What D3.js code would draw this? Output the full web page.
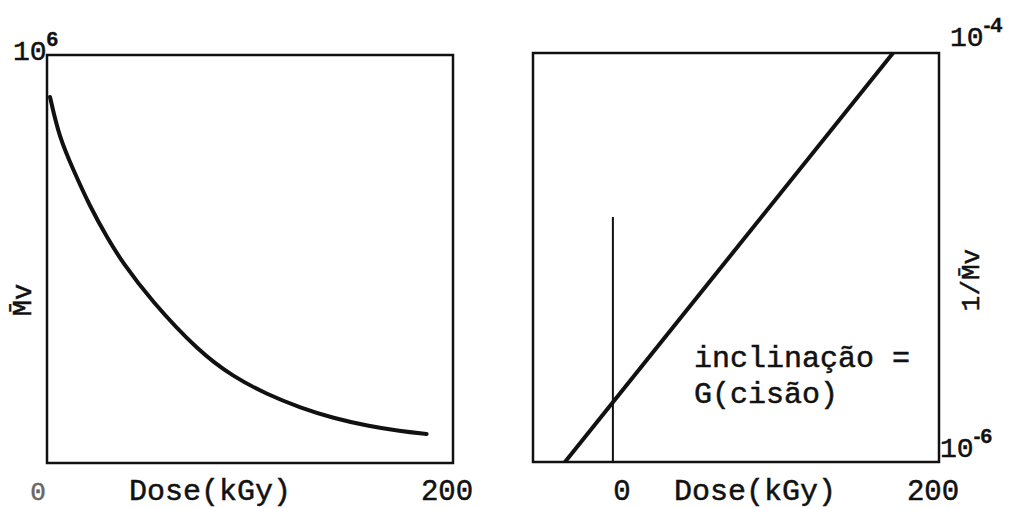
<!DOCTYPE html>
<html>
<head>
<meta charset="utf-8">
<script src="https://cdn.jsdelivr.net/npm/d3@7"></script>
<style>
  body { margin: 0; background: #fff; }
  text { font-family: "Liberation Mono", "DejaVu Sans Mono", monospace; fill: #111; stroke: #111; stroke-width: 0.5px; }
  .sup { font-family: "Liberation Sans", Arial, sans-serif; font-weight: bold; stroke-width: 0.3px; }
</style>
</head>
<body>
<div id="chart"></div>
<script>
// left panel: Mv vs dose
var doseLeft = [1.5, 6, 13, 21, 30, 37, 51, 75, 92, 108, 125, 141, 158, 174, 187];
var mvLeft = [897000, 799000, 718000, 630000, 549000, 493000, 400000, 272000, 211000, 169000, 135000, 110000, 91000, 78000, 71000];

// right panel: 1/Mv vs dose, straight line + vertical marker at dose 0
var doseRight = [-29.4, 171.8];
var invMvRight = [1e-6, 1e-4];
var markerDose = [0, 0];
var markerValue = [1e-6, 6.03e-5];

var xTickLabels = ["0", "200"];
var axisTitle = "Dose(kGy)";

var svgWidth = 1019;
var svgHeight = 508;

var svg = d3.select("#chart")
  .append("svg")
  .attr("width", svgWidth)
  .attr("height", svgHeight);

// Step 1: scales
// ==============================
var xLeft = d3.scaleLinear().domain([0, 200]).range([47, 453]);
var yLeft = d3.scaleLinear().domain([0, 1e6]).range([463, 55]);

var xRight = d3.scaleLinear().domain([-49, 200]).range([533, 939]);
var yRight = d3.scaleLinear().domain([1e-6, 1e-4]).range([462, 53]);

// Step 2: frames
// ==============================
svg.append("rect")
  .attr("x", xLeft(0)).attr("y", yLeft(1e6))
  .attr("width", xLeft(200) - xLeft(0))
  .attr("height", yLeft(0) - yLeft(1e6))
  .attr("fill", "none")
  .attr("stroke", "#111")
  .attr("stroke-width", 2.5);

svg.append("rect")
  .attr("x", xRight(-49)).attr("y", yRight(1e-4))
  .attr("width", xRight(200) - xRight(-49))
  .attr("height", yRight(1e-6) - yRight(1e-4))
  .attr("fill", "none")
  .attr("stroke", "#111")
  .attr("stroke-width", 2.5);

// Step 3: data lines
// ==============================
var leftData = doseLeft.map(function(d, i) { return {x: d, y: mvLeft[i]}; });
var rightData = doseRight.map(function(d, i) { return {x: d, y: invMvRight[i]}; });
var markerData = markerDose.map(function(d, i) { return {x: d, y: markerValue[i]}; });

// basis curve smooths out the reading noise of the hand-picked points
svg.append("path")
  .datum(leftData)
  .attr("fill", "none")
  .attr("stroke", "#111")
  .attr("stroke-width", 4)
  .attr("stroke-linecap", "round")
  .attr("d", d3.line()
    .curve(d3.curveBasis)
    .x(function(d) { return xLeft(d.x); })
    .y(function(d) { return yLeft(d.y); }));

svg.append("path")
  .datum(rightData)
  .attr("fill", "none")
  .attr("stroke", "#111")
  .attr("stroke-width", 4)
  .attr("d", d3.line()
    .x(function(d) { return xRight(d.x); })
    .y(function(d) { return yRight(d.y); }));

svg.append("path")
  .datum(markerData)
  .attr("fill", "none")
  .attr("stroke", "#111")
  .attr("stroke-width", 2)
  .attr("d", d3.line()
    .x(function(d) { return xRight(d.x); })
    .y(function(d) { return yRight(d.y); }));

// Step 4: tick labels + axis titles
// ==============================
svg.append("text")
  .attr("x", xLeft(0) - 9).attr("y", 500)
  .attr("text-anchor", "middle")
  .attr("font-size", 26)
  .style("fill", "#666")
  .style("stroke", "#666")
  .text(xTickLabels[0]);

svg.append("text")
  .attr("x", xLeft(200) - 6).attr("y", 500)
  .attr("text-anchor", "middle")
  .attr("font-size", 29)
  .text(xTickLabels[1]);

svg.append("text")
  .attr("x", 210).attr("y", 500)
  .attr("text-anchor", "middle")
  .attr("font-size", 30)
  .text(axisTitle);

svg.append("text")
  .attr("x", xRight(0) + 9).attr("y", 500)
  .attr("text-anchor", "middle")
  .attr("font-size", 29)
  .text(xTickLabels[0]);

svg.append("text")
  .attr("x", xRight(200) - 6).attr("y", 500)
  .attr("text-anchor", "middle")
  .attr("font-size", 29)
  .text(xTickLabels[1]);

svg.append("text")
  .attr("x", 755).attr("y", 500)
  .attr("text-anchor", "middle")
  .attr("font-size", 30)
  .text(axisTitle);

// y extremes as powers of ten
function powerLabel(x, y, exp) {
  var t = svg.append("text")
    .attr("x", x).attr("y", y)
    .attr("font-size", 28);
  t.append("tspan").text("10");
  t.append("tspan")
    .attr("class", "sup")
    .attr("dy", -14)
    .attr("font-size", 21)
    .text(exp);
}

powerLabel(13, 60, "6");
powerLabel(950, 46, "-4");
powerLabel(940, 457, "-6");

// rotated y titles
svg.append("text")
  .attr("transform", "translate(31, 300) rotate(-90)")
  .attr("text-anchor", "middle")
  .attr("font-size", 27)
  .text("M\u0304v");

svg.append("text")
  .attr("transform", "translate(979, 280) rotate(-90)")
  .attr("text-anchor", "middle")
  .attr("font-size", 26)
  .text("1/M\u0304v");

// annotation
svg.append("text")
  .attr("x", 694).attr("y", 367)
  .attr("font-size", 30)
  .text("inclinação =");

svg.append("text")
  .attr("x", 694).attr("y", 403)
  .attr("font-size", 30)
  .text("G(cisão)");
</script>
</body>
</html>
